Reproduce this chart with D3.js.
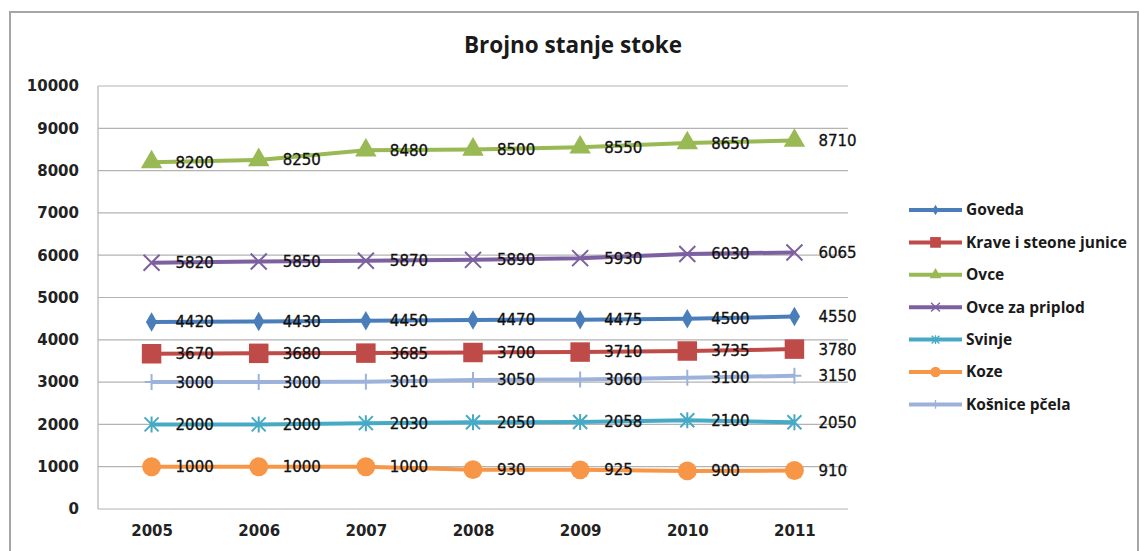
<!DOCTYPE html>
<html>
<head>
<meta charset="utf-8">
<script src="https://cdn.jsdelivr.net/npm/d3@7"></script>
<style>
  body { margin: 0; background: #fff; }
</style>
</head>
<body>
<div id="chart"></div>
<script>
const years = ["2005", "2006", "2007", "2008", "2009", "2010", "2011"];
const yTicks = [0, 1000, 2000, 3000, 4000, 5000, 6000, 7000, 8000, 9000, 10000];
const seriesNames = ["Goveda", "Krave i steone junice", "Ovce", "Ovce za priplod", "Svinje", "Koze", "Košnice pčela"];
const goveda = [4420, 4430, 4450, 4470, 4475, 4500, 4550];
const krave = [3670, 3680, 3685, 3700, 3710, 3735, 3780];
const ovce = [8200, 8250, 8480, 8500, 8550, 8650, 8710];
const ovcePriplod = [5820, 5850, 5870, 5890, 5930, 6030, 6065];
const svinje = [2000, 2000, 2030, 2050, 2058, 2100, 2050];
const koze = [1000, 1000, 1000, 930, 925, 900, 910];
const kosnice = [3000, 3000, 3010, 3050, 3060, 3100, 3150];

const seriesValues = [goveda, krave, ovce, ovcePriplod, svinje, koze, kosnice];
const colors = ["#4a7ebb", "#be4b48", "#98b954", "#7d60a0", "#46aac5", "#f79646", "#9db2db"];
const markers = ["diamond", "square", "triangle", "x", "star", "circle", "plus"];

const series = seriesNames.map((name, i) => ({
  name: name,
  color: colors[i],
  marker: markers[i],
  values: seriesValues[i].map((v, j) => ({ year: years[j], value: v }))
}));

const width = 1139, height = 551;
const plot = { left: 98, right: 848, top: 86, bottom: 509 };

const svg = d3.select("#chart").append("svg")
  .attr("width", width)
  .attr("height", height);

// outer frame
svg.append("rect")
  .attr("x", 10).attr("y", 12)
  .attr("width", 1128).attr("height", 560)
  .attr("fill", "#fff")
  .attr("stroke", "#a6a6a6")
  .attr("stroke-width", 2);

svg.append("text")
  .attr("x", 573).attr("y", 45)
  .attr("dy", "0.35em")
  .attr("text-anchor", "middle")
  .attr("font-family", "Open Sans, sans-serif")
  .attr("font-weight", "bold")
  .attr("font-size", 22.5)
  .attr("fill", "#1a1a1a")
  .text("Brojno stanje stoke");

const x = d3.scalePoint()
  .domain(years)
  .range([plot.left, plot.right])
  .padding(0.5);

const y = d3.scaleLinear()
  .domain([0, 10000])
  .range([plot.bottom, plot.top]);

// gridlines
svg.append("g")
  .selectAll("line")
  .data(yTicks)
  .join("line")
  .attr("x1", plot.left).attr("x2", plot.right)
  .attr("y1", d => y(d)).attr("y2", d => y(d))
  .attr("stroke", "#b3b3b3")
  .attr("stroke-width", 1.2);

svg.append("line")
  .attr("x1", plot.left).attr("x2", plot.left)
  .attr("y1", plot.top).attr("y2", plot.bottom)
  .attr("stroke", "#b3b3b3")
  .attr("stroke-width", 1.2);

// axes
const yAxis = svg.append("g")
  .attr("transform", `translate(${plot.left},0)`)
  .call(d3.axisLeft(y).tickValues(yTicks).tickFormat(d3.format("d")).tickSize(0).tickPadding(19));
const xAxis = svg.append("g")
  .attr("transform", `translate(0,${plot.bottom})`)
  .call(d3.axisBottom(x).tickSize(0).tickPadding(16));
[yAxis, xAxis].forEach(a => {
  a.select(".domain").remove();
  a.selectAll("text")
    .attr("font-family", "DejaVu Sans, sans-serif")
    .attr("font-weight", "bold")
    .attr("font-size", 15)
    .attr("fill", "#222");
});

const line = d3.line()
  .x(d => x(d.year))
  .y(d => y(d.value));

function markerPath(type) {
  switch (type) {
    case "diamond": return d3.symbol(d3.symbolDiamond, 110)();
    case "square": return d3.symbol(d3.symbolSquare, 380)();
    case "triangle": return d3.symbol(d3.symbolTriangle, 200)();
    case "circle": return d3.symbol(d3.symbolCircle, 280)();
    case "x": return "M-8,-8L8,8M-8,8L8,-8";
    case "star": return "M-7,-7L7,7M-7,7L7,-7M0,-8L0,8";
    case "plus": return "M0,-8L0,8M-7,0L7,0";
  }
}
const strokeMarker = t => t === "x" || t === "star" || t === "plus";

const groups = svg.append("g")
  .selectAll("g")
  .data(series)
  .join("g");

groups.append("path")
  .attr("d", d => line(d.values))
  .attr("fill", "none")
  .attr("stroke", d => d.color)
  .attr("stroke-width", 4);

groups.each(function (s) {
  d3.select(this).selectAll(".mk")
    .data(s.values)
    .join("path")
    .attr("class", "mk")
    .attr("transform", d => `translate(${x(d.year)},${y(d.value)})`)
    .attr("d", markerPath(s.marker))
    .attr("fill", strokeMarker(s.marker) ? "none" : s.color)
    .attr("stroke", s.color)
    .attr("stroke-width", strokeMarker(s.marker) ? 2 : 0);
});

// data labels
svg.append("g")
  .selectAll("g")
  .data(series)
  .join("g")
  .selectAll("text")
  .data(d => d.values)
  .join("text")
  .attr("x", d => x(d.year) + 24)
  .attr("y", d => y(d.value))
  .attr("dy", "0.36em")
  .attr("font-family", "DejaVu Sans, sans-serif")
  .attr("font-size", 15)
  .attr("fill", "#111")
  .attr("stroke", "#111")
  .attr("stroke-width", 0.3)
  .text(d => d.value);

// legend
const legend = svg.append("g")
  .selectAll("g")
  .data(series)
  .join("g")
  .attr("transform", (d, i) => `translate(909,${210 + i * 32.4})`);

legend.append("line")
  .attr("x1", 0).attr("x2", 53)
  .attr("stroke", d => d.color)
  .attr("stroke-width", 4);

legend.append("path")
  .attr("transform", "translate(26.5,0) scale(0.55)")
  .attr("d", d => markerPath(d.marker))
  .attr("fill", d => strokeMarker(d.marker) ? "none" : d.color)
  .attr("stroke", d => d.color)
  .attr("stroke-width", d => strokeMarker(d.marker) ? 2.5 : 0);

legend.append("text")
  .attr("x", 57)
  .attr("dy", "0.35em")
  .attr("font-family", "Open Sans, sans-serif")
  .attr("font-weight", "bold")
  .attr("font-size", 15.5)
  .attr("fill", "#1a1a1a")
  .text(d => d.name);
</script>
</body>
</html>
